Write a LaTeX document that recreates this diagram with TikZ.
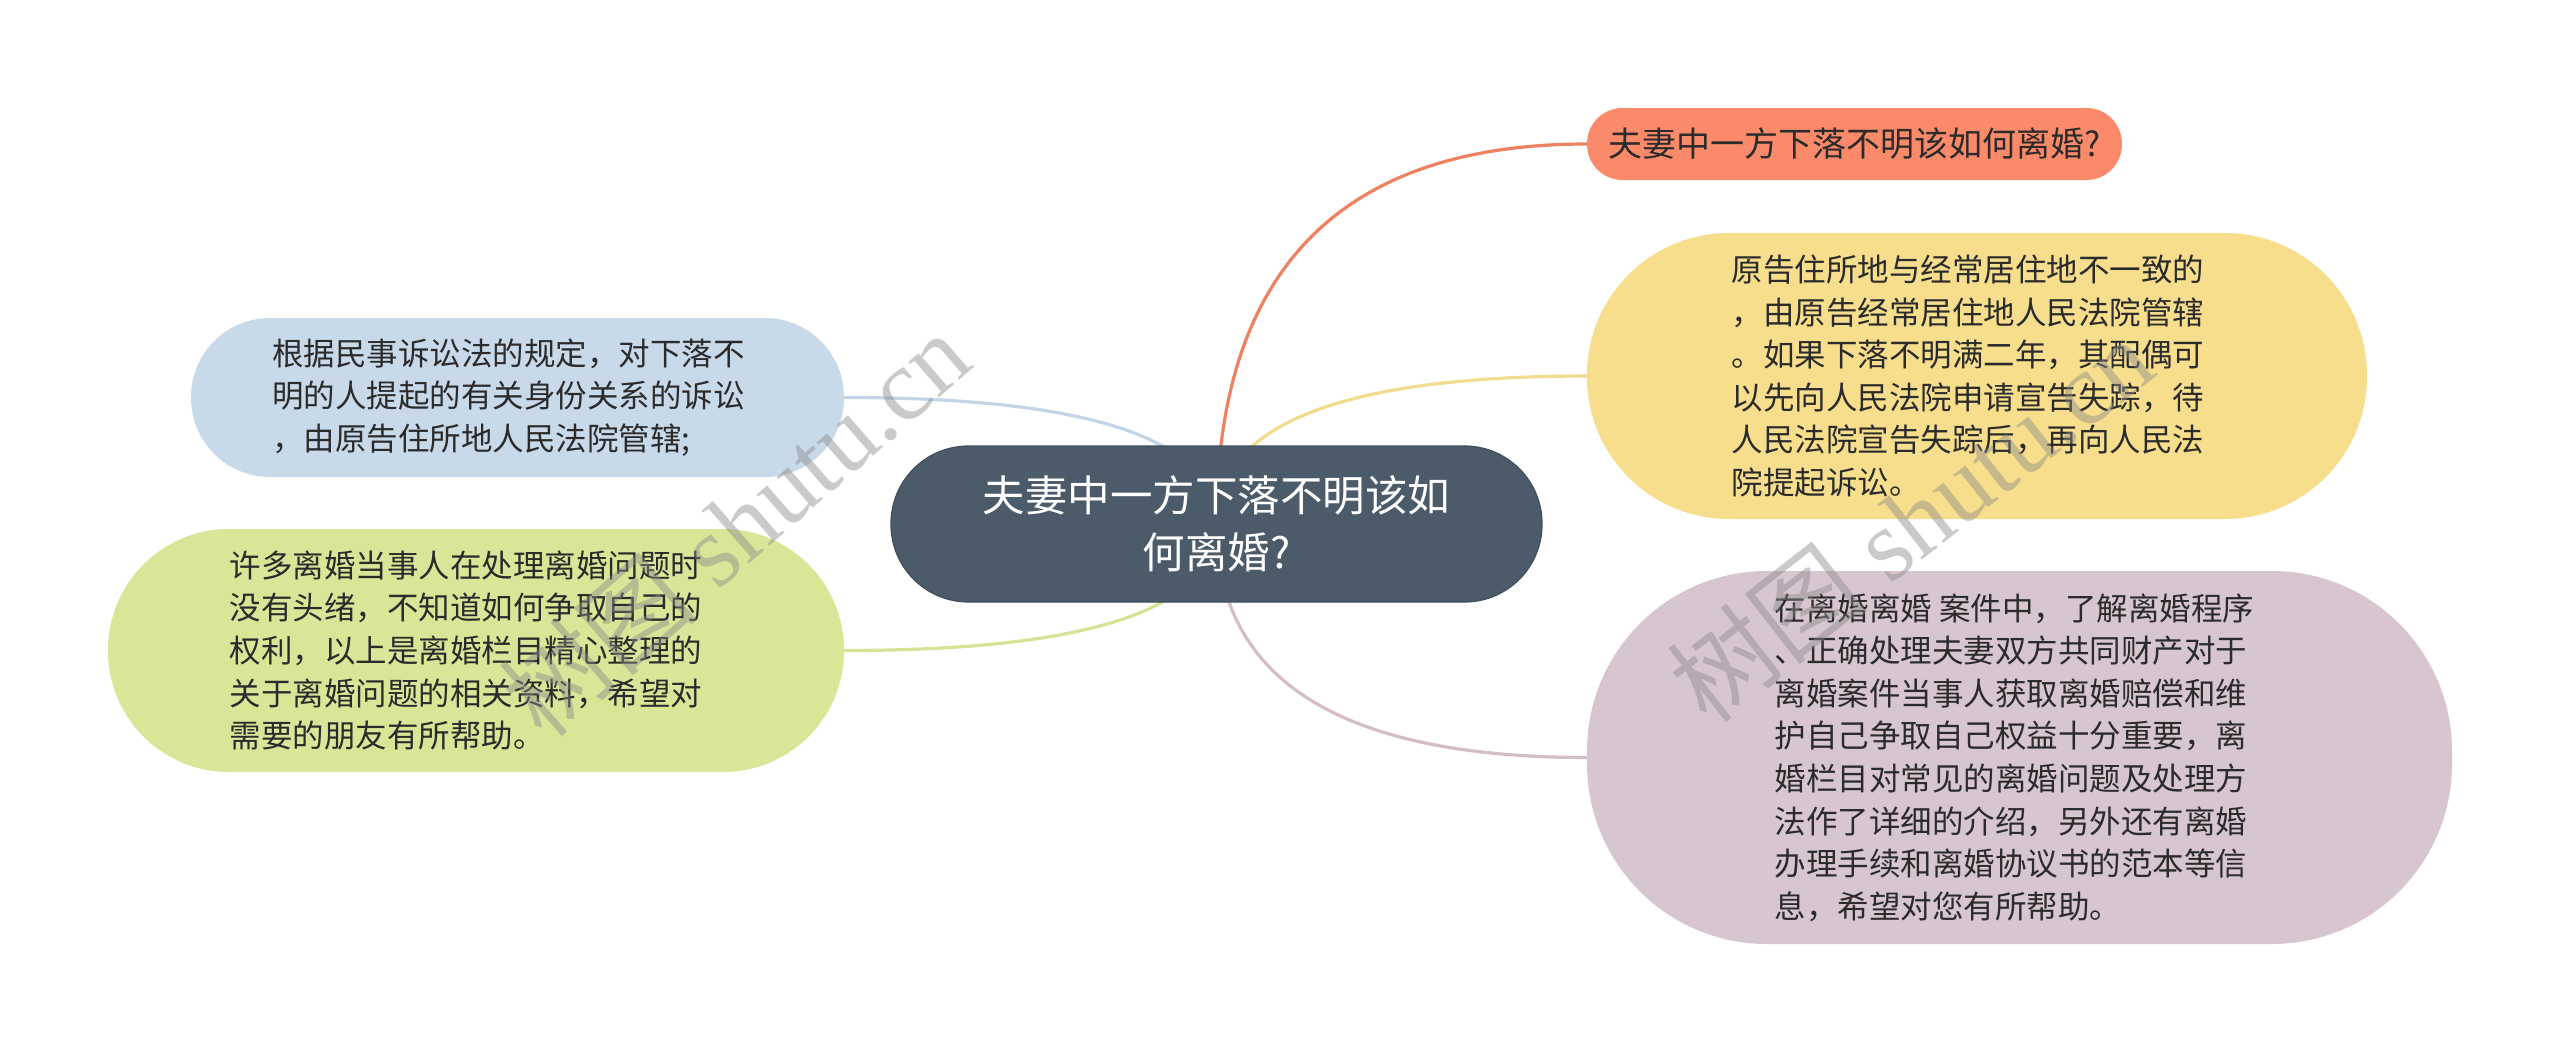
\documentclass[tikz,border=0pt]{standalone}
\usepackage{fontspec}
\newfontfamily\cjk{Noto Sans CJK SC}
\newfontfamily\wmfont{Liberation Serif}
\usetikzlibrary{calc}
\pgfdeclarelayer{background}
\pgfdeclarelayer{front}
\pgfsetlayers{background,main,front}
\definecolor{cdark}{HTML}{4B5B6A}
\definecolor{cdarkb}{HTML}{3F4E5C}
\definecolor{corange}{HTML}{FA8A6A}
\definecolor{corangeline}{HTML}{EE8160}
\definecolor{cyellow}{HTML}{F6DE8D}
\definecolor{cyellowline}{HTML}{F2DB8C}
\definecolor{cblue}{HTML}{C8D9EA}
\definecolor{cblueline}{HTML}{C3D4E6}
\definecolor{cgreen}{HTML}{D8E698}
\definecolor{cgreenline}{HTML}{D4E394}
\definecolor{cpink}{HTML}{D7C5CF}
\definecolor{cpinkline}{HTML}{D2BDC9}
\definecolor{ctext}{HTML}{2B2B2B}
\definecolor{cwm}{HTML}{8A8A8A}
\tikzset{
  box/.style={inner sep=0pt, align=left, text=ctext,
    font=\cjk\fontsize{31.5pt}{42.6pt}\selectfont},
  root/.style={inner sep=0pt, align=center, text=white, fill=cdark,
    draw=cdarkb, line width=1.2pt,
    font=\cjk\fontsize{42.5pt}{57pt}\selectfont},
  link/.style={line width=3.2pt},
  wm/.style={text=cwm, text opacity=0.45, inner sep=0pt,
    font=\wmfont\fontsize{102pt}{104pt}\selectfont}
}
\begin{document}
\begin{tikzpicture}[x=1pt,y=-1pt]
\useasboundingbox (0,0) rectangle (2560,1050);

\node[root, minimum width=651pt, minimum height=156pt, rounded corners=77.5pt] (c) at (1216.5,524) {夫妻中一方下落不明该如\\何离婚?};

\node[box, fill=corange, minimum width=535pt, minimum height=72pt, rounded corners=35.5pt,
  font=\cjk\fontsize{34pt}{40pt}\selectfont] (o) at (1854.5,144) {夫妻中一方下落不明该如何离婚?};

\node[box, fill=cyellow, minimum width=780pt, minimum height=286pt, rounded corners=142pt] (y) at (1977,376)
  {原告住所地与经常居住地不一致的\hspace*{18pt}\\，由原告经常居住地人民法院管辖\\。如果下落不明满二年，其配偶可\\以先向人民法院申请宣告失踪，待\\人民法院宣告失踪后，再向人民法\\院提起诉讼。};

\node[box, fill=cblue, minimum width=653pt, minimum height=159pt, rounded corners=79pt] (b) at (517.5,397.5)
  {根据民事诉讼法的规定，对下落不\hspace*{18pt}\\明的人提起的有关身份关系的诉讼\\，由原告住所地人民法院管辖;};

\node[box, fill=cgreen, minimum width=736pt, minimum height=243pt, rounded corners=121pt] (g) at (476,650.5)
  {许多离婚当事人在处理离婚问题时\hspace*{20pt}\\没有头绪，不知道如何争取自己的\\权利，以上是离婚栏目精心整理的\\关于离婚问题的相关资料，希望对\\需要的朋友有所帮助。};

\node[box, fill=cpink, minimum width=865pt, minimum height=373pt, rounded corners=180pt] (p) at (2019.5,757.5)
  {在离婚离婚 案件中，了解离婚程序\hspace*{10pt}\\、正确处理夫妻双方共同财产对于\\离婚案件当事人获取离婚赔偿和维\\护自己争取自己权益十分重要，离\\婚栏目对常见的离婚问题及处理方\\法作了详细的介绍，另外还有离婚\\办理手续和离婚协议书的范本等信\\息，希望对您有所帮助。};

\begin{pgfonlayer}{background}
\fill[white] (0,0) rectangle (2560,1050);
\coordinate (ko) at (c.center |- o.west);
\coordinate (ky) at (c.center |- y.west);
\coordinate (kp) at (c.center |- p.west);
\coordinate (kb) at (c.center |- b.east);
\coordinate (kg) at (c.center |- g.east);
\draw[link, corangeline] (c.center) .. controls ($(c.center)!0.6667!(ko)$) and ($(o.west)!0.6667!(ko)$) .. (o.west);
\draw[link, cyellowline] (c.center) .. controls ($(c.center)!0.6667!(ky)$) and ($(y.west)!0.6667!(ky)$) .. (y.west);
\draw[link, cpinkline] (c.center) .. controls ($(c.center)!0.6667!(kp)$) and ($(p.west)!0.6667!(kp)$) .. (p.west);
\draw[link, cblueline] (c.center) .. controls ($(c.center)!0.6667!(kb)$) and ($(b.east)!0.6667!(kb)$) .. (b.east);
\draw[link, cgreenline] (c.center) .. controls ($(c.center)!0.6667!(kg)$) and ($(g.east)!0.6667!(kg)$) .. (g.east);
\end{pgfonlayer}

\begin{pgfonlayer}{front}
\node[wm, rotate=41] (w1) at (735,525) {{\cjk 树图} shutu.cn};
\node[wm, rotate=38] (w2) at (1910,520) {{\cjk 树图} shutu.cn};
\end{pgfonlayer}
\end{tikzpicture}
\end{document}
